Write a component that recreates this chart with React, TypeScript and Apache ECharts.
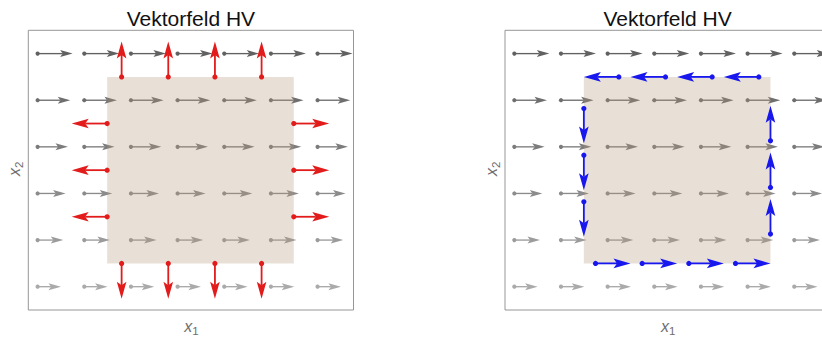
import React, { useEffect, useRef } from "react";
import * as echarts from "echarts";

// ---- data (plot units: x1 in [0, 6.97], x2 in [0, 6]) ----
const GRID_X = [0.2, 1.2, 2.2, 3.2, 4.2, 5.2, 6.2];
const GRID_Y = [0.5, 1.5, 2.5, 3.5, 4.5, 5.5];
const ROW_LENGTHS = [0.5, 0.55, 0.6, 0.65, 0.7, 0.75]; // field magnitude per row (bottom -> top)

const REGION = [1.69, 1, 5.69, 5]; // x0, y0, x1, y1

// left panel: outward normals (red)
const RED_TOP_X = [2, 3, 4, 5];
const RED_BOTTOM_X = [2, 3, 4, 5];
const RED_LEFT_Y = [2, 3, 4];
const RED_RIGHT_Y = [2, 3, 4];
const RED_LEN = 0.76;

// right panel: boundary tangents (blue)
const BLUE_TOP_X = [2.44, 3.44, 4.44, 5.44];
const BLUE_BOTTOM_X = [1.94, 2.94, 3.94, 4.94];
const BLUE_LEFT_Y = [4.32, 3.32, 2.32];
const BLUE_RIGHT_Y = [1.63, 2.63, 3.63];
const BLUE_LEN = 0.75;

const TITLE = "Vektorfeld HV";

// ---- styles ----
const ROW_COLORS = ["#aaaaaa", "#9b9b9b", "#8b8b8b", "#7c7c7c", "#6e6e6e", "#616161"];
const RED = "#e21b1b";
const BLUE = "#1717ee";
const FRAME = "#969696";
const LABEL = "#6e6e6e";
const FONT = "'Liberation Sans', Arial, sans-serif";

function grayData() {
  const out: any[] = [];
  GRID_Y.forEach((y, j) => {
    GRID_X.forEach((x) => {
      out.push({ value: [x, y, ROW_LENGTHS[j], 0], itemStyle: { color: ROW_COLORS[j] } });
    });
  });
  return out;
}

function redData() {
  const out: number[][] = [];
  RED_TOP_X.forEach((x) => out.push([x, REGION[3], 0, RED_LEN]));
  RED_BOTTOM_X.forEach((x) => out.push([x, REGION[1], 0, -RED_LEN]));
  RED_LEFT_Y.forEach((y) => out.push([REGION[0], y, -RED_LEN, 0]));
  RED_RIGHT_Y.forEach((y) => out.push([REGION[2], y, RED_LEN, 0]));
  return out;
}

function blueData() {
  const out: number[][] = [];
  BLUE_TOP_X.forEach((x) => out.push([x, REGION[3], -BLUE_LEN, 0]));
  BLUE_BOTTOM_X.forEach((x) => out.push([x, REGION[1], BLUE_LEN, 0]));
  BLUE_LEFT_Y.forEach((y) => out.push([REGION[0], y, 0, -BLUE_LEN]));
  BLUE_RIGHT_Y.forEach((y) => out.push([REGION[2], y, 0, BLUE_LEN]));
  return out;
}

function arrowRenderer(headLen: number, headHalf: number, notch: number, lineW: number, dotR: number, fixedColor?: string) {
  return (params: any, api: any) => {
    const x = api.value(0), y = api.value(1), dx = api.value(2), dy = api.value(3);
    const p0 = api.coord([x, y]);
    const p1 = api.coord([x + dx, y + dy]);
    const color = fixedColor || api.visual("color");
    const vx = p1[0] - p0[0], vy = p1[1] - p0[1];
    const L = Math.sqrt(vx * vx + vy * vy) || 1;
    const ux = vx / L, uy = vy / L;
    const nx = -uy, ny = ux;
    const bx = p1[0] - ux * headLen, by = p1[1] - uy * headLen;
    const mx = p1[0] - ux * (headLen - notch), my = p1[1] - uy * (headLen - notch);
    return {
      type: "group",
      children: [
        { type: "line", shape: { x1: p0[0], y1: p0[1], x2: mx, y2: my }, style: { stroke: color, lineWidth: lineW } },
        {
          type: "polygon",
          shape: { points: [[p1[0], p1[1]], [bx + nx * headHalf, by + ny * headHalf], [mx, my], [bx - nx * headHalf, by - ny * headHalf]] },
          style: { fill: color },
        },
        { type: "circle", shape: { cx: p0[0], cy: p0[1], r: dotR }, style: { fill: color } },
      ],
    };
  };
}

function rectRenderer(params: any, api: any) {
  const a = api.coord([api.value(0), api.value(3)]);
  const b = api.coord([api.value(2), api.value(1)]);
  return {
    type: "rect",
    shape: { x: a[0], y: a[1], width: b[0] - a[0], height: b[1] - a[1] },
    style: { fill: "rgba(178,152,122,0.3)" },
  };
}

function axisLabels(cx: number, ylx: number): any[] {
  const xs = [
    { type: "text", x: cx - 2.6, y: 326.3, style: { text: "x", font: `italic 16px ${FONT}`, fill: LABEL, align: "center", verticalAlign: "middle" } },
    { type: "text", x: cx + 4.6, y: 331, style: { text: "1", font: `11.5px ${FONT}`, fill: LABEL, align: "center", verticalAlign: "middle" } },
  ];
  const ys = {
    type: "group",
    x: ylx,
    y: 169.5,
    rotation: Math.PI / 2,
    children: [
      { type: "text", x: -2.6, y: -1.7, style: { text: "x", font: `italic 16px ${FONT}`, fill: LABEL, align: "center", verticalAlign: "middle" } },
      { type: "text", x: 4.6, y: 3, style: { text: "2", font: `11.5px ${FONT}`, fill: LABEL, align: "center", verticalAlign: "middle" } },
    ],
  };
  return [...xs, ys];
}

export default function App() {
  const ref = useRef<HTMLDivElement>(null);
  useEffect(() => {
    document.body.style.margin = "0";
    const chart = echarts.init(ref.current!, undefined, { renderer: "svg" });
    const grids = [
      { left: 28.3, top: 30.3, width: 325.2, height: 279.7 },
      { left: 505, top: 30.3, width: 325.2, height: 279.7 },
    ].map((g) => ({
      ...g,
      show: true,
      borderColor: FRAME,
      borderWidth: 1,
      backgroundColor: "transparent",
      containLabel: false,
      outerBoundsMode: "none",
    }));
    const axisBase = {
      axisLine: { show: false },
      axisTick: { show: false },
      axisLabel: { show: false },
      splitLine: { show: false },
    };
    const xAxes = [0, 1].map((i) => ({ type: "value", gridIndex: i, min: 0, max: 6.97, ...axisBase }));
    const yAxes = [0, 1].map((i) => ({ type: "value", gridIndex: i, min: 0, max: 6, ...axisBase }));
    const gray = grayData();
    const series: any[] = [];
    [0, 1].forEach((i) => {
      series.push({
        type: "custom",
        name: "field" + i,
        xAxisIndex: i,
        yAxisIndex: i,
        z: 2,
        renderItem: arrowRenderer(12.5, 3.5, 2.6, 1.35, 2.1),
        data: gray,
      });
      series.push({
        type: "custom",
        name: "region" + i,
        xAxisIndex: i,
        yAxisIndex: i,
        z: 3,
        renderItem: rectRenderer,
        data: [REGION],
      });
    });
    series.push({
      type: "custom",
      name: "normals",
      xAxisIndex: 0,
      yAxisIndex: 0,
      z: 4,
      renderItem: arrowRenderer(17, 4.8, 3.5, 1.8, 2.6, RED),
      data: redData(),
    });
    series.push({
      type: "custom",
      name: "tangents",
      xAxisIndex: 1,
      yAxisIndex: 1,
      z: 4,
      renderItem: arrowRenderer(17, 4.8, 3.5, 1.8, 2.6, BLUE),
      data: blueData(),
    });

    chart.setOption({
      animation: false,
      backgroundColor: "#ffffff",
      grid: grids,
      xAxis: xAxes,
      yAxis: yAxes,
      series,
      graphic: [
        { type: "text", x: 190.9, y: 18.5, style: { text: TITLE, font: `21px ${FONT}`, fill: "#111111", align: "center", verticalAlign: "middle" } },
        { type: "text", x: 667.6, y: 18.5, style: { text: TITLE, font: `21px ${FONT}`, fill: "#111111", align: "center", verticalAlign: "middle" } },
        ...axisLabels(190.9, 16),
        ...axisLabels(667.6, 493),
      ],
    });
    return () => chart.dispose();
  }, []);
  return <div ref={ref} style={{ width: 822, height: 338 }} />;
}
